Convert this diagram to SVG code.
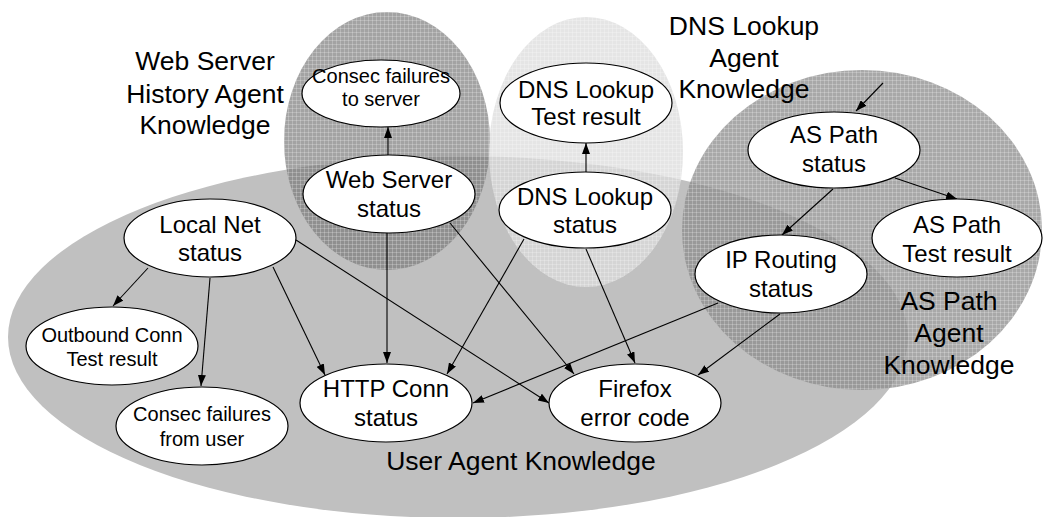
<svg xmlns="http://www.w3.org/2000/svg" width="1044" height="517" viewBox="0 0 1044 517">
<style>
text{font-family:"Liberation Sans",Arial,Helvetica,sans-serif;fill:#000;text-anchor:middle}
.n{fill:#fff;stroke:#000;stroke-width:1.2}
.t{font-size:24px}
.s{font-size:20px}
.lbl{font-size:26.5px}
.e{stroke:#000;stroke-width:1.1;fill:none;marker-end:url(#arr)}
.g{fill:url(#grid)}
</style>
<defs>
<marker id="arr" markerUnits="userSpaceOnUse" markerWidth="11" markerHeight="8" refX="11" refY="4" orient="auto"><path d="M0,0 L11,4 L0,8 z" fill="#000"/></marker>
<pattern id="grid" width="4" height="4" patternUnits="userSpaceOnUse"><path d="M0 0.5H4M0.5 0V4" stroke="#fff" stroke-opacity="0.22" stroke-width="1"/></pattern>
</defs>
<rect width="1044" height="517" fill="#fff"/>
<g id="regions">
<ellipse id="user-agent" cx="458" cy="337" rx="450" ry="181" fill="#c0c0c0"/>
<g id="web-server-agent"><ellipse cx="387" cy="141" rx="103" ry="129" fill="#787878" opacity="0.68"/><ellipse class="g" cx="387" cy="141" rx="103" ry="129"/></g>
<g id="dns-agent"><ellipse cx="586" cy="152" rx="97" ry="135" fill="#dcdcdc" opacity="0.75"/><ellipse class="g" cx="586" cy="152" rx="97" ry="135"/></g>
<g id="as-path-agent"><ellipse cx="862" cy="230" rx="180" ry="160" fill="#8d8d8d" opacity="0.76"/><ellipse class="g" cx="862" cy="230" rx="180" ry="160"/></g>
</g>
<g id="connectors">
<line class="e" x1="388" y1="155" x2="388" y2="127"/>
<line class="e" x1="586" y1="172" x2="586" y2="143"/>
<line class="e" x1="883" y1="83" x2="856" y2="111"/>
<line class="e" x1="895" y1="178" x2="957" y2="199"/>
<line class="e" x1="833" y1="189" x2="782" y2="235"/>
<line class="e" x1="718" y1="303" x2="473" y2="403"/>
<line class="e" x1="780" y1="314" x2="698" y2="375"/>
<line class="e" x1="148" y1="268" x2="113" y2="306"/>
<line class="e" x1="210" y1="278" x2="201" y2="386"/>
<line class="e" x1="273" y1="267" x2="325" y2="375"/>
<line class="e" x1="296" y1="240" x2="549" y2="403"/>
<line class="e" x1="387" y1="233" x2="387" y2="363"/>
<line class="e" x1="450" y1="223" x2="574" y2="374"/>
<line class="e" x1="524" y1="239" x2="447" y2="374"/>
<line class="e" x1="586" y1="249" x2="635" y2="363"/>
</g>
<g id="consec-server"><ellipse class="n" cx="381" cy="93.5" rx="79" ry="33.5"/><text class="s" x="381" y="83">Consec failures</text><text class="s" x="381" y="106">to server</text></g>
<g id="web-server"><ellipse class="n" cx="389" cy="194" rx="86" ry="39"/><text class="t" x="389" y="188">Web Server</text><text class="t" x="389" y="217">status</text></g>
<g id="dns-test"><ellipse class="n" cx="586" cy="103" rx="86" ry="40"/><text class="t" x="586" y="98">DNS Lookup</text><text class="t" x="586" y="125">Test result</text></g>
<g id="dns-status"><ellipse class="n" cx="585" cy="210" rx="86" ry="38"/><text class="t" x="585" y="205">DNS Lookup</text><text class="t" x="585" y="233">status</text></g>
<g id="as-status"><ellipse class="n" cx="834" cy="150" rx="86" ry="38"/><text class="t" x="834" y="143">AS Path</text><text class="t" x="834" y="172">status</text></g>
<g id="as-test"><ellipse class="n" cx="957" cy="238" rx="85" ry="39"/><text class="t" x="957" y="233">AS Path</text><text class="t" x="957" y="262">Test result</text></g>
<g id="ip-routing"><ellipse class="n" cx="781" cy="274" rx="86" ry="39"/><text class="t" x="781" y="268">IP Routing</text><text class="t" x="781" y="297">status</text></g>
<g id="local-net"><ellipse class="n" cx="210" cy="238" rx="86" ry="39"/><text class="t" x="210" y="233">Local Net</text><text class="t" x="210" y="261">status</text></g>
<g id="outbound"><ellipse class="n" cx="112" cy="346" rx="86" ry="39"/><text class="s" x="112" y="342">Outbound Conn</text><text class="s" x="112" y="366">Test result</text></g>
<g id="consec-user"><ellipse class="n" cx="202" cy="426" rx="86" ry="39"/><text class="s" x="202" y="421">Consec failures</text><text class="s" x="202" y="446">from user</text></g>
<g id="http-conn"><ellipse class="n" cx="386" cy="403" rx="86" ry="39"/><text class="t" x="386" y="397">HTTP Conn</text><text class="t" x="386" y="426">status</text></g>
<g id="firefox"><ellipse class="n" cx="635" cy="403" rx="86" ry="39"/><text class="t" x="635" y="397">Firefox</text><text class="t" x="635" y="426">error code</text></g>
<g id="labels">
<text class="lbl" x="205" y="70">Web Server</text><text class="lbl" x="205" y="103">History Agent</text><text class="lbl" x="205" y="134">Knowledge</text>
<text class="lbl" x="744" y="35">DNS Lookup</text><text class="lbl" x="744" y="67">Agent</text><text class="lbl" x="744" y="98">Knowledge</text>
<text class="lbl" x="949" y="310">AS Path</text><text class="lbl" x="949" y="342">Agent</text><text class="lbl" x="949" y="374">Knowledge</text>
<text class="lbl" x="521" y="470">User Agent Knowledge</text>
</g>
</svg>
